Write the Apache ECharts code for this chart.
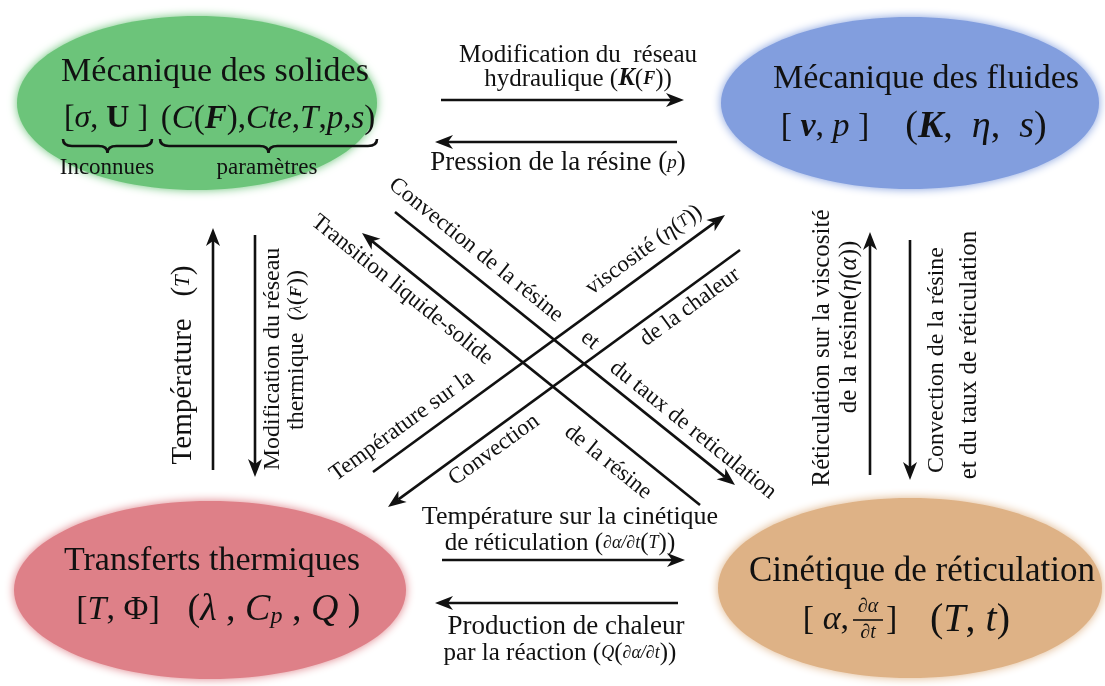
<!DOCTYPE html>
<html>
<head>
<meta charset="utf-8">
<script src="https://cdn.jsdelivr.net/npm/echarts@6/dist/echarts.min.js"></script>
<style>
  html, body { margin: 0; padding: 0; background: #fff; }
  #main { width: 1105px; height: 686px; }
</style>
</head>
<body>
<div id="main"></div>
<script>
var FONT = '"Liberation Serif", "DejaVu Serif", serif';

// les 4 domaines physiques (ellipses)
var nodeNames = ['Mécanique des solides', 'Mécanique des fluides', 'Transferts thermiques', 'Cinétique de réticulation'];
var nodeX = [197, 910, 210, 910];
var nodeY = [103, 103, 590, 588];
var nodeRx = [184, 193, 200, 196];
var nodeRy = [91, 90, 93, 94];
var nodeColors = ['#6cc47a', '#829ede', '#de8088', '#deb286'];
var titleX = [215, 926, 212, 922];
var titleY = [72, 79, 561, 572];
var titleSize = [34, 34, 34, 35];

// inconnues / paramètres dans les ellipses
var mathTexts = [
  '[{i|σ}, {b|U} ]', '({i|C}({bi|F}),{i|Cte},{i|T},{i|p},{i|s})',
  '[ {bi|v}, {i|p} ]', '({bi|K},  {i|η},  {i|s})',
  '[{i|T}, Φ]', '({i|λ} , {i|C}{sub|p} , {i|Q} )',
  '[ {i|α},', ']', '({i|T}, {i|t})', '{i|∂α}', '{i|∂t}',
  'Inconnues', 'paramètres'
];
var mathX = [106, 268, 825, 976, 118, 274, 849, 886, 970, 868, 868, 107, 267];
var mathY = [119, 119, 127, 127, 610, 610, 620, 620, 620, 607, 633, 168, 168];
var mathSize = [32, 33, 34, 38, 34, 38, 34, 34, 40, 20, 20, 23, 23];
var mathAlign = ['center', 'center', 'center', 'center', 'center', 'center', 'right', 'left', 'center', 'center', 'center', 'center', 'center'];

// flèches (départ -> pointe)
var arrowX1 = [441, 677, 442, 678, 213, 255, 870, 910, 395, 700, 373, 740];
var arrowY1 = [100, 142, 560, 603, 470, 235, 475, 240, 212, 505, 472, 250];
var arrowX2 = [684, 435, 685, 435, 213, 255, 870, 910, 735, 362, 725, 388];
var arrowY2 = [100, 142, 560, 603, 228, 477, 232, 480, 485, 233, 215, 507];

// textes des couplages
var labelTexts = [
  'Modification du  réseau',
  'hydraulique ({bi|K}({bs|F}))',
  'Pression de la résine ({is|p})',
  'Température sur la cinétique',
  'de réticulation ({is|∂α/∂t}({is|T}))',
  'Production de chaleur',
  'par la réaction ({is|Q}({is|∂α/∂t}))',
  'Température   ({is|T})',
  'Modification du réseau',
  'thermique  ({is|λ}({bs|F}))',
  'Réticulation sur la viscosité',
  'de la résine({i|η}({i|α}))',
  'Convection de la résine',
  'et du taux de réticulation',
  'Convection de la résine',
  'et',
  'du taux de reticulation',
  'Transition liquide-solide',
  'de la résine',
  'Température sur la',
  'viscosité ({i|η}({is|T}))',
  'Convection',
  'de la chaleur'
];
var labelX = [578, 578, 558, 570, 560, 566, 560, 183, 273, 297, 822, 849, 937, 969, 476, 590, 693, 402, 608, 402, 644, 494, 690];
var labelY = [55, 79, 163, 517, 543, 627, 653, 365, 359, 350, 348, 327, 360, 355, 250, 340, 430, 290, 462, 426, 250, 450, 307];
var labelAngle = [0, 0, 0, 0, 0, 0, 0, 90, 90, 90, 90, 90, 90, 90, -38.8, -38.8, -38.8, -38.8, -38.8, 36, 36, 36, 36];
var labelSize = [25, 25, 27, 26, 25, 27, 25, 29, 24, 24, 25, 25, 24, 25, 23, 23, 23, 23, 23, 23, 23, 23, 23];

// accolades sous les inconnues / paramètres
var braceX1 = [63, 160];
var braceX2 = [152, 377];
var braceY = [139, 139];

function richFor(size) {
  return {
    i: { fontFamily: FONT, fontStyle: 'italic', fontSize: size },
    b: { fontFamily: FONT, fontWeight: 'bold', fontSize: size },
    bi: { fontFamily: FONT, fontWeight: 'bold', fontStyle: 'italic', fontSize: size },
    is: { fontFamily: FONT, fontStyle: 'italic', fontSize: Math.round(size * 0.72) },
    bs: { fontFamily: FONT, fontWeight: 'bold', fontStyle: 'italic', fontSize: Math.round(size * 0.72) },
    sub: { fontFamily: FONT, fontStyle: 'italic', fontSize: Math.round(size * 0.62), verticalAlign: 'bottom' }
  };
}

function textEl(api, text, x, y, size, angle, align) {
  var c = api.coord([x, y]);
  return {
    type: 'text',
    x: c[0], y: c[1],
    rotation: angle * Math.PI / 180,
    style: {
      text: text, fill: '#111', fontFamily: FONT, fontSize: size,
      align: align || 'center', verticalAlign: 'middle', rich: richFor(size)
    }
  };
}

var myChart = echarts.init(document.getElementById('main'));

var option = {
  animation: false,
  grid: { left: 0, right: 0, top: 0, bottom: 0 },
  xAxis: { type: 'value', min: 0, max: 1105, show: false },
  yAxis: { type: 'value', min: 0, max: 686, inverse: true, show: false },
  series: [
    {
      type: 'custom', name: 'domaines', clip: false,
      data: nodeX.map(function (x, i) { return [x, nodeY[i]]; }),
      renderItem: function (params, api) {
        var i = params.dataIndex;
        var c = api.coord([api.value(0), api.value(1)]);
        var s = api.size([nodeRx[i], nodeRy[i]]);
        return {
          type: 'group',
          children: [
            {
              type: 'ellipse',
              shape: { cx: c[0], cy: c[1], rx: Math.abs(s[0]) - 4, ry: Math.abs(s[1]) - 4 },
              style: { fill: nodeColors[i], shadowBlur: 10, shadowColor: nodeColors[i] }
            },
            textEl(api, nodeNames[i], titleX[i], titleY[i], titleSize[i], 0)
          ]
        };
      }
    },
    {
      type: 'custom', name: 'accolades', clip: false,
      data: braceX1.map(function (x, i) { return [x, braceY[i]]; }),
      renderItem: function (params, api) {
        var i = params.dataIndex;
        var a = api.coord([braceX1[i], braceY[i]]);
        var b = api.coord([braceX2[i], braceY[i]]);
        var y = a[1], d = 14, r = 9, xm = (a[0] + b[0]) / 2;
        var p = 'M' + a[0] + ',' + y +
          ' Q' + a[0] + ',' + (y + d / 2) + ' ' + (a[0] + r) + ',' + (y + d / 2) +
          ' L' + (xm - r) + ',' + (y + d / 2) +
          ' Q' + xm + ',' + (y + d / 2) + ' ' + xm + ',' + (y + d) +
          ' Q' + xm + ',' + (y + d / 2) + ' ' + (xm + r) + ',' + (y + d / 2) +
          ' L' + (b[0] - r) + ',' + (y + d / 2) +
          ' Q' + b[0] + ',' + (y + d / 2) + ' ' + b[0] + ',' + y;
        return {
          type: 'path',
          shape: { pathData: p },
          style: { fill: null, stroke: '#111', lineWidth: 2.6 }
        };
      }
    },
    {
      type: 'custom', name: 'fraction', clip: false,
      data: [[868, 620]],
      renderItem: function (params, api) {
        var a = api.coord([853, 620]), b = api.coord([883, 620]);
        return { type: 'line', shape: { x1: a[0], y1: a[1], x2: b[0], y2: b[1] }, style: { stroke: '#111', lineWidth: 1.6 } };
      }
    },
    {
      type: 'custom', name: 'fleches', clip: false,
      data: arrowX1.map(function (x, i) { return [x, arrowY1[i], arrowX2[i], arrowY2[i]]; }),
      renderItem: function (params, api) {
        var p1 = api.coord([api.value(0), api.value(1)]);
        var p2 = api.coord([api.value(2), api.value(3)]);
        var dx = p2[0] - p1[0], dy = p2[1] - p1[1];
        var len = Math.sqrt(dx * dx + dy * dy);
        var ux = dx / len, uy = dy / len, nx = -uy, ny = ux;
        var L = 18, w = 7;
        var bx = p2[0] - ux * L, by = p2[1] - uy * L;
        var mx = p2[0] - ux * L * 0.72, my = p2[1] - uy * L * 0.72;
        return {
          type: 'group',
          children: [
            { type: 'line', shape: { x1: p1[0], y1: p1[1], x2: mx, y2: my }, style: { stroke: '#111', lineWidth: 2.6 } },
            { type: 'polygon', shape: { points: [[p2[0], p2[1]], [bx + nx * w, by + ny * w], [mx, my], [bx - nx * w, by - ny * w]] }, style: { fill: '#111' } }
          ]
        };
      }
    },
    {
      type: 'custom', name: 'couplages', clip: false,
      data: labelX.map(function (x, i) { return [x, labelY[i]]; }),
      renderItem: function (params, api) {
        var i = params.dataIndex;
        return textEl(api, labelTexts[i], api.value(0), api.value(1), labelSize[i], labelAngle[i]);
      }
    },
    {
      type: 'custom', name: 'variables', clip: false,
      data: mathX.map(function (x, i) { return [x, mathY[i]]; }),
      renderItem: function (params, api) {
        var i = params.dataIndex;
        return textEl(api, mathTexts[i], api.value(0), api.value(1), mathSize[i], 0, mathAlign[i]);
      }
    }
  ]
};
myChart.setOption(option);
</script>
</body>
</html>
